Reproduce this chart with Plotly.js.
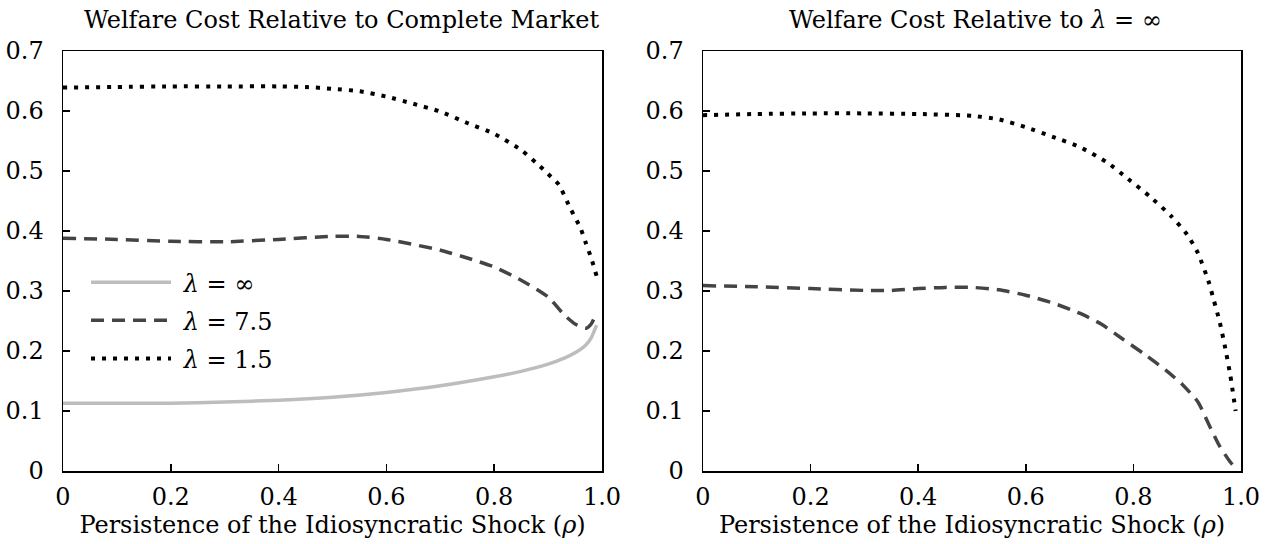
<!DOCTYPE html>
<html>
<head>
<meta charset="utf-8">
<script src="https://cdn.plot.ly/plotly-3.0.1.min.js"></script>
<style>html,body{margin:0;padding:0;background:#fff;}#chart{width:1265px;height:544px;}</style>
</head>
<body>
<div id="chart"></div>
<script>
// Left panel: welfare cost relative to complete market
const rhoInfL = [0, 0.1, 0.2, 0.3, 0.4, 0.5, 0.6, 0.7, 0.8, 0.85, 0.9, 0.93, 0.95, 0.97, 0.98, 0.99];
const costInfL = [0.113, 0.113, 0.113, 0.115, 0.118, 0.123, 0.131, 0.142, 0.157, 0.166, 0.178, 0.188, 0.197, 0.21, 0.222, 0.243];

const rho75L = [0, 0.1, 0.2, 0.3, 0.4, 0.5, 0.55, 0.6, 0.7, 0.75, 0.8, 0.85, 0.9, 0.93, 0.95, 0.97, 0.98, 0.99];
const cost75L = [0.388, 0.386, 0.383, 0.382, 0.386, 0.391, 0.391, 0.386, 0.368, 0.355, 0.34, 0.318, 0.29, 0.26, 0.245, 0.238, 0.245, 0.265];

const rho15L = [0, 0.1, 0.2, 0.3, 0.4, 0.45, 0.5, 0.55, 0.6, 0.65, 0.7, 0.75, 0.8, 0.85, 0.88, 0.9, 0.92, 0.94, 0.96, 0.97, 0.98, 0.99];
const cost15L = [0.639, 0.640, 0.641, 0.641, 0.641, 0.640, 0.637, 0.633, 0.624, 0.612, 0.599, 0.58, 0.562, 0.535, 0.512, 0.495, 0.477, 0.44, 0.405, 0.38, 0.355, 0.325];

// Right panel: welfare cost relative to lambda = infinity
const rho75R = [0, 0.1, 0.2, 0.3, 0.35, 0.4, 0.45, 0.5, 0.55, 0.6, 0.65, 0.7, 0.74, 0.78, 0.82, 0.86, 0.89, 0.92, 0.94, 0.96, 0.98, 0.99];
const cost75R = [0.309, 0.307, 0.304, 0.301, 0.301, 0.304, 0.306, 0.306, 0.302, 0.293, 0.28, 0.263, 0.245, 0.22, 0.195, 0.168, 0.145, 0.115, 0.078, 0.042, 0.015, 0.005];

const rho15R = [0, 0.1, 0.2, 0.3, 0.4, 0.5, 0.55, 0.6, 0.65, 0.7, 0.75, 0.79, 0.83, 0.87, 0.9, 0.92, 0.94, 0.95, 0.96, 0.97, 0.98, 0.99];
const cost15R = [0.593, 0.595, 0.596, 0.596, 0.595, 0.592, 0.586, 0.573, 0.557, 0.54, 0.515, 0.487, 0.458, 0.425, 0.394, 0.363, 0.315, 0.283, 0.25, 0.208, 0.16, 0.10];

const xTickVals = [0, 0.2, 0.4, 0.6, 0.8, 1.0];
const xTickText = ["0", "0.2", "0.4", "0.6", "0.8", "1.0"];
const yTickVals = [0, 0.1, 0.2, 0.3, 0.4, 0.5, 0.6, 0.7];
const yTickText = ["0", "0.1", "0.2", "0.3", "0.4", "0.5", "0.6", "0.7"];

const seriesNames = ["\u00a0<i>λ</i> = ∞", "\u00a0<i>λ</i> = 7.5", "\u00a0<i>λ</i> = 1.5"];
const leftTitle = "Welfare Cost Relative to Complete Market";
const rightTitle = "Welfare Cost Relative to <i>λ</i> = ∞";
const xTitle = "Persistence of the Idiosyncratic Shock (<i>ρ</i>)";

const FONT = "DejaVu Serif, Liberation Serif, serif";
const FS = 24;
const spline = {shape: "spline", smoothing: 0.6};
const greyLine = Object.assign({color: "#bdbdbd", width: 3.5, dash: "solid"}, spline);
const dashLine = Object.assign({color: "#444444", width: 3.5, dash: "13px,8px"}, spline);
const dotLine = Object.assign({color: "#000000", width: 4, dash: "4px,7px"}, spline);

const traces = [
  {x: rhoInfL, y: costInfL, mode: "lines", name: seriesNames[0], legendgroup: "inf", line: greyLine, xaxis: "x", yaxis: "y"},
  {x: rho75L, y: cost75L, mode: "lines", name: seriesNames[1], legendgroup: "l75", line: dashLine, xaxis: "x", yaxis: "y"},
  {x: rho15L, y: cost15L, mode: "lines", name: seriesNames[2], legendgroup: "l15", line: dotLine, xaxis: "x", yaxis: "y"},
  {x: rho75R, y: cost75R, mode: "lines", name: seriesNames[1], legendgroup: "l75", showlegend: false, line: dashLine, xaxis: "x2", yaxis: "y2"},
  {x: rho15R, y: cost15R, mode: "lines", name: seriesNames[2], legendgroup: "l15", showlegend: false, line: dotLine, xaxis: "x2", yaxis: "y2"}
];

function xAxis(domain, anchor) {
  return {
    domain: domain, anchor: anchor, range: [0, 1.0],
    tickvals: xTickVals, ticktext: xTickText,
    ticks: "inside", ticklen: 7, tickwidth: 1.5, tickcolor: "#000",
    showline: true, linecolor: "#000", linewidth: 1.5, mirror: true,
    showgrid: false, zeroline: false, ticklabelstandoff: 4,
    tickfont: {family: FONT, size: FS, color: "#000"},
    title: {text: xTitle, font: {family: FONT, size: FS, color: "#000"}, standoff: 0}
  };
}
function yAxis(anchor) {
  return {
    domain: [73/544, 493/544], anchor: anchor, range: [0, 0.7],
    tickvals: yTickVals, ticktext: yTickText,
    ticks: "inside", ticklen: 7, tickwidth: 1.5, tickcolor: "#000",
    showline: true, linecolor: "#000", linewidth: 1.5, mirror: true,
    showgrid: false, zeroline: false, ticklabelstandoff: 13,
    tickfont: {family: FONT, size: FS, color: "#000"}
  };
}

const layout = {
  width: 1265, height: 544,
  margin: {l: 0, r: 0, t: 0, b: 0},
  paper_bgcolor: "#fff", plot_bgcolor: "#fff",
  font: {family: FONT, color: "#000"},
  xaxis: xAxis([63/1265, 602/1265], "y"),
  yaxis: yAxis("x"),
  xaxis2: xAxis([703/1265, 1241/1265], "y2"),
  yaxis2: yAxis("x2"),
  showlegend: true,
  legend: {
    x: 0.068, y: 0.522, xanchor: "left", yanchor: "top",
    bgcolor: "rgba(0,0,0,0)", borderwidth: 0,
    font: {family: FONT, size: FS, color: "#000"},
    itemwidth: 80, tracegroupgap: 4
  },
  annotations: [
    {text: leftTitle, xref: "paper", yref: "paper", x: 342/1265, y: 1 - 20/544, xanchor: "center", yanchor: "middle", showarrow: false, font: {family: FONT, size: FS, color: "#000"}},
    {text: rightTitle, xref: "paper", yref: "paper", x: 975/1265, y: 1 - 20/544, xanchor: "center", yanchor: "middle", showarrow: false, font: {family: FONT, size: FS, color: "#000"}}
  ]
};

Plotly.newPlot("chart", traces, layout, {displayModeBar: false, staticPlot: true});
</script>
</body>
</html>
